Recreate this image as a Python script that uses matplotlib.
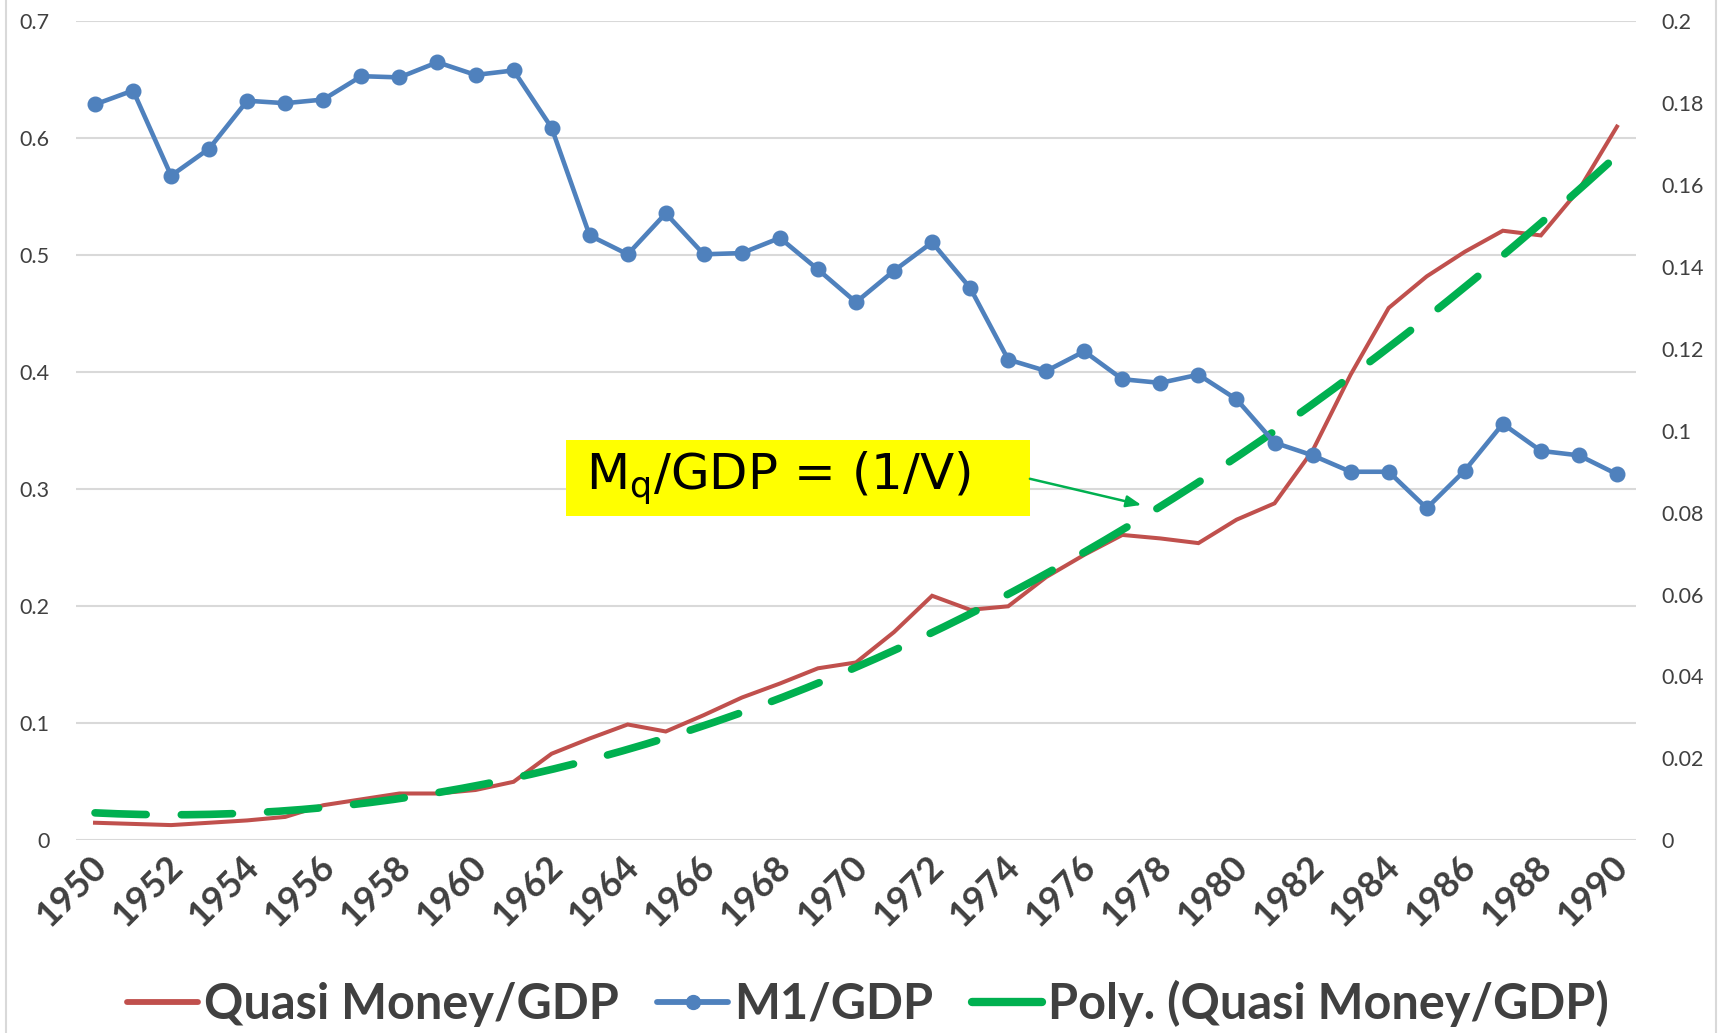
import matplotlib.pyplot as plt
import numpy as np
from matplotlib.lines import Line2D
from matplotlib.patches import Rectangle
from matplotlib import transforms

plt.rcParams['font.family'] = ['Lato', 'DejaVu Sans']

years = list(range(1950, 1991))

# left axis
quasi_money_gdp = [0.015, 0.014, 0.013, 0.015, 0.017, 0.020, 0.030, 0.035, 0.040, 0.040,
                   0.043, 0.050, 0.074, 0.087, 0.099, 0.093, 0.107, 0.122, 0.134, 0.147,
                   0.152, 0.178, 0.209, 0.197, 0.200, 0.225, 0.244, 0.261, 0.258, 0.254,
                   0.274, 0.288, 0.333, 0.398, 0.455, 0.482, 0.503, 0.521, 0.517, 0.556,
                   0.610]

# right axis
m1_gdp = [0.1797, 0.1831, 0.1623, 0.1689, 0.1806, 0.1800, 0.1809, 0.1866, 0.1863, 0.1900,
          0.1869, 0.1880, 0.1740, 0.1477, 0.1431, 0.1531, 0.1431, 0.1434, 0.1471, 0.1394,
          0.1314, 0.1391, 0.1460, 0.1349, 0.1174, 0.1146, 0.1194, 0.1126, 0.1117, 0.1137,
          0.1077, 0.0971, 0.0940, 0.0900, 0.0900, 0.0811, 0.0903, 0.1017, 0.0951, 0.0940,
          0.0894]

trend_order = 2

red = '#c0504d'
blue = '#4f81bd'
green = '#00b050'
text_col = '#404040'
grid_col = '#d9d9d9'

fig = plt.figure(figsize=(17.19, 10.33), dpi=100)
ax = fig.add_axes([76 / 1719, 1 - 840.3 / 1033, (1636 - 76) / 1719, 819 / 1033])
ax2 = ax.twinx()

# polynomial trendline of the quasi money series
coef = np.polyfit(years, quasi_money_gdp, trend_order)
xs = np.linspace(years[0], years[-1], 200)

ax.plot(years, quasi_money_gdp, color=red, lw=2.9, zorder=3, solid_joinstyle='miter')
ax.plot(xs, np.polyval(coef, xs), color=green, lw=5.5, zorder=4,
        dashes=(6.7, 4.6), dash_capstyle='round')
ax2.plot(years, m1_gdp, color=blue, lw=3.3, marker='o', ms=10.5, zorder=3)

ax.set_xlim(1949.5, 1990.5)
ax.set_ylim(0, 0.7)
ax2.set_ylim(0, 0.2)
ax.set_yticks(np.arange(0, 0.71, 0.1))
ax.set_yticklabels(['0', '0.1', '0.2', '0.3', '0.4', '0.5', '0.6', '0.7'])
ax2.set_yticks(np.arange(0, 0.201, 0.02))
ax2.set_yticklabels(['0'] + ['%g' % v for v in np.arange(0.02, 0.201, 0.02)])
ax.grid(axis='y', color=grid_col, lw=1.5)
ax.set_axisbelow(True)

for a in (ax, ax2):
    for s in a.spines.values():
        s.set_visible(False)
    a.tick_params(length=0, colors=text_col, labelsize=15.5)
ax.tick_params(axis='y', pad=19)
ax2.tick_params(axis='y', pad=18)

ax.set_xticks(years[::2])
ax.set_xticklabels([str(y) for y in years[::2]], rotation=45, ha='right', va='center',
                   rotation_mode='anchor', fontsize=26, fontweight='bold')
offset = transforms.ScaledTranslation(0.06, -0.16, fig.dpi_scale_trans)
for lbl in ax.get_xticklabels():
    lbl.set_transform(lbl.get_transform() + offset)

# annotation box
ax.add_patch(Rectangle((1962.38, 0.2768), 12.19, 0.0657, facecolor='#ffff00',
                       edgecolor='none', zorder=5))
ax.text(1962.9, 0.309, 'M$_\\mathregular{q}$/GDP = (1/V)', fontsize=36, family='DejaVu Sans',
        color='black', va='center', ha='left', zorder=6)
ax.annotate('', xy=(1977.5, 0.2866), xytext=(1974.57, 0.309),
            arrowprops=dict(arrowstyle='-|>,head_length=0.9,head_width=0.35', color=green,
                            lw=1.8, shrinkA=0, shrinkB=0), zorder=6)

# chart border
fig.add_artist(Line2D([6 / 1719, 6 / 1719], [0, 1], color=grid_col, lw=1.5))
fig.add_artist(Line2D([1716 / 1719, 1716 / 1719], [0, 1], color=grid_col, lw=1.5))

handles = [Line2D([], [], color=red, lw=4.2, solid_capstyle='round'),
           Line2D([], [], color=blue, lw=4.2, marker='o', ms=10, solid_capstyle='round'),
           Line2D([], [], color=green, lw=6, solid_capstyle='round')]
fig.legend(handles, ['Quasi Money/GDP', 'M1/GDP', 'Poly. (Quasi Money/GDP)'],
           loc='center', bbox_to_anchor=(0.505, 1 - 1003 / 1033), ncol=3, frameon=False,
           prop={'size': 35, 'weight': 'bold'}, labelcolor=text_col,
           handlelength=1.45, handletextpad=0.12, columnspacing=0.8)

plt.savefig('out.png', dpi=100)
